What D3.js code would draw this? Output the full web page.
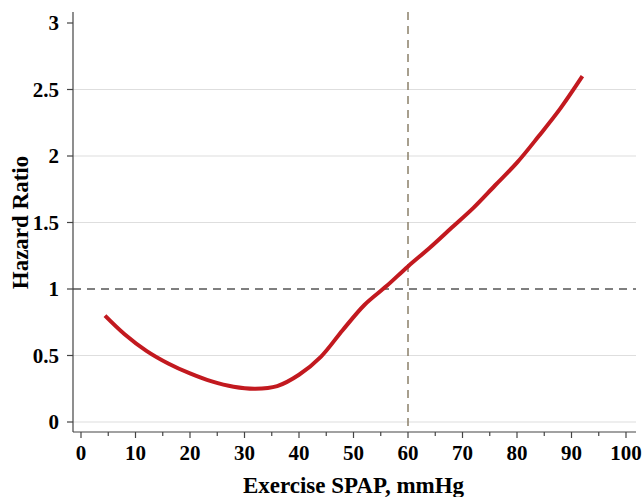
<!DOCTYPE html>
<html><head><meta charset="utf-8">
<script src="https://cdn.jsdelivr.net/npm/d3@7"></script>
<style>body{margin:0;background:#fff}svg{display:block}text{font-family:"Liberation Serif","Times New Roman",serif;font-weight:bold}</style>
</head><body>
<svg id="c" width="644" height="497"></svg>
<script>
const xs = [4.4, 8, 12, 16, 20, 24, 28, 32, 36, 40, 44, 48, 52, 56, 60, 64, 68, 72, 76, 80, 84, 88, 92];
const hr = [0.80, 0.66, 0.535, 0.44, 0.365, 0.305, 0.265, 0.25, 0.27, 0.355, 0.49, 0.69, 0.88, 1.02, 1.17, 1.31, 1.46, 1.61, 1.78, 1.95, 2.15, 2.36, 2.60];
const xTicks = [0,10,20,30,40,50,60,70,80,90,100];
const xMinor = [5,15,25,35,45,55,65,75,85,95];
const yTicks = [0,0.5,1,1.5,2,2.5,3];
const gridVals = [0,0.5,1.5,2,2.5];
const refY = 1, refX = 60;

(function(){
const svg = d3.select("#c");
const x = d3.scaleLinear().domain([0,100]).range([81,626]);
const y = d3.scaleLinear().domain([0,3]).range([422,23]);
const pL = 73, pR = 636, pB = 432, pT = 12;

svg.append("g").selectAll("line").data(gridVals).join("line")
  .attr("x1",pL).attr("x2",pR).attr("y1",d=>y(d)).attr("y2",d=>y(d))
  .attr("stroke","#dedede").attr("stroke-width",1.2);

svg.append("line").attr("x1",pL).attr("x2",pR).attr("y1",y(refY)).attr("y2",y(refY))
  .attr("stroke","#555").attr("stroke-width",1.5).attr("stroke-dasharray","8,6");
svg.append("line").attr("x1",x(refX)).attr("x2",x(refX)).attr("y1",pT).attr("y2",pB)
  .attr("stroke","#8a806a").attr("stroke-width",1.5).attr("stroke-dasharray","8,6");

const line = d3.line().x((d,i)=>x(xs[i])).y(d=>y(d)).curve(d3.curveCatmullRom);
svg.append("path").datum(hr).attr("d",line).attr("fill","none")
  .attr("stroke","#c2191f").attr("stroke-width",4);

svg.append("line").attr("x1",pL).attr("x2",pL).attr("y1",pT).attr("y2",pB).attr("stroke","#444").attr("stroke-width",1.2);
svg.append("line").attr("x1",pL).attr("x2",pR).attr("y1",pB).attr("y2",pB).attr("stroke","#444").attr("stroke-width",1.2);

const yg = svg.append("g");
yg.selectAll("line").data(yTicks).join("line").attr("x1",pL-6).attr("x2",pL).attr("y1",d=>y(d)).attr("y2",d=>y(d)).attr("stroke","#444").attr("stroke-width",1.2);
yg.selectAll("text").data(yTicks).join("text").attr("x",59).attr("y",d=>y(d)).attr("dy","0.35em")
  .attr("text-anchor","end").attr("font-size",21).text(d=>d);

const xg = svg.append("g");
xg.selectAll("line.maj").data(xTicks).join("line").attr("class","maj").attr("x1",d=>x(d)).attr("x2",d=>x(d)).attr("y1",pB).attr("y2",pB+6).attr("stroke","#444").attr("stroke-width",1.2);
xg.selectAll("line.min").data(xMinor).join("line").attr("class","min").attr("x1",d=>x(d)).attr("x2",d=>x(d)).attr("y1",pB).attr("y2",pB+4).attr("stroke","#444").attr("stroke-width",1.2);
xg.selectAll("text").data(xTicks).join("text").attr("x",d=>x(d)).attr("y",460)
  .attr("text-anchor","middle").attr("font-size",21).text(d=>d);

svg.append("text").attr("x",x(50)).attr("y",493).attr("text-anchor","middle")
  .attr("font-size",23).text("Exercise SPAP, mmHg");
svg.append("text").attr("transform","translate(28,"+y(1.5)+") rotate(-90)").attr("text-anchor","middle")
  .attr("font-size",23).text("Hazard Ratio");
})();
</script>
</body></html>
